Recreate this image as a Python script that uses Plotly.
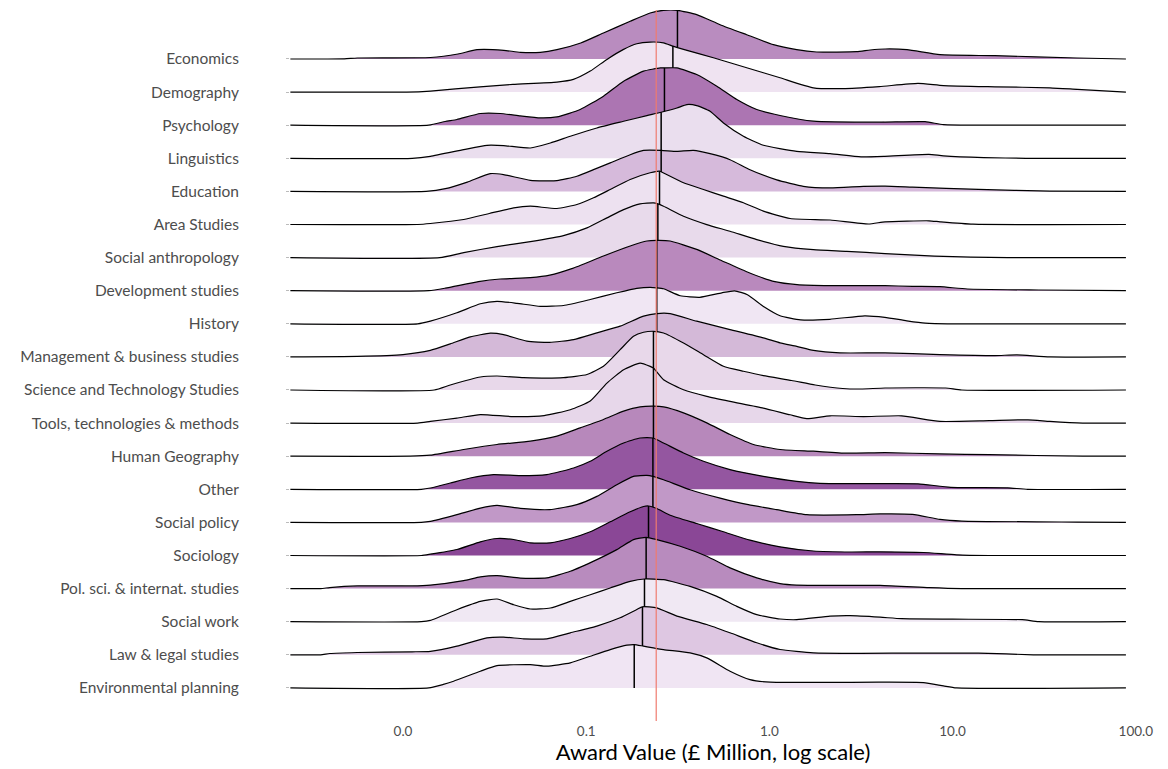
import numpy as np
import plotly.graph_objects as go

categories = ["Economics", "Demography", "Psychology", "Linguistics", "Education", "Area Studies",
              "Social anthropology", "Development studies", "History", "Management & business studies",
              "Science and Technology Studies", "Tools, technologies & methods", "Human Geography", "Other",
              "Social policy", "Sociology", "Pol. sci. & internat. studies", "Social work",
              "Law & legal studies", "Environmental planning"]

fill_colors = ["#b98cbf", "#efe3f1", "#ac75b2", "#eadeee", "#d6badb", "#ede1f0", "#e8daeb", "#b989bd",
               "#f0e6f3", "#d4b9d8", "#e8d8ea", "#e7d7ea", "#b788bb", "#9456a0", "#c198c7", "#8a4796",
               "#b88bbe", "#f0e8f3", "#dec7e2", "#f0e5f3"]

# median award (log10 of £ million) per category, and overall median
medians_log10 = [-0.502, -0.527, -0.573, -0.591, -0.591, -0.60, -0.609, -0.615, -0.615, -0.615,
                 -0.633, -0.633, -0.633, -0.636, -0.636, -0.66, -0.673, -0.682, -0.693, -0.738]
overall_median_log10 = -0.618

tick_vals = [0.01, 0.1, 1, 10, 100]
tick_text = ["0.0", "0.1", "1.0", "10.0", "100.0"]

# density curves: x = log10(award, £M), d = relative density
economics_x = [-2.615, -2.32, -2.25, -1.85, -1.7, -1.596, -1.45, -1.36, -1.25, -1.16, -1.03, -0.906, -0.76, -0.651, -0.578, -0.502, -0.397, -0.269, -0.124, 0.022, 0.149, 0.258, 0.476, 0.55, 0.631, 0.751, 0.931, 1.231, 1.681, 1.946]
economics_d = [0, 0.2, 1, 1.5, 5, 9.3, 8.7, 6.7, 6.7, 9.3, 16, 26, 37.7, 46, 48.7, 48.7, 44.3, 34.3, 24.3, 14.3, 9.3, 7, 7.3, 9, 10, 9.3, 4.3, 3.3, 1, 0]

demography_x = [-2.615, -1.98, -1.85, -1.58, -1.40, -1.16, -1.07, -0.978, -0.887, -0.796, -0.724, -0.651, -0.578, -0.527, -0.469, -0.306, -0.124, 0.058, 0.24, 0.40, 0.60, 0.811, 0.95, 1.231, 1.531, 1.681, 1.946]
demography_d = [0, 0, 1, 5.3, 7.7, 10, 12.7, 21, 32.7, 42.7, 48.3, 50, 49.3, 46, 42.7, 34.3, 24.3, 14.3, 4.3, 3.5, 5.5, 8.7, 6.5, 5.3, 4.3, 2.7, 0]

psychology_x = [-2.615, -1.86, -1.77, -1.706, -1.578, -1.469, -1.36, -1.251, -1.16, -1.033, -0.906, -0.796, -0.687, -0.596, -0.573, -0.505, -0.397, -0.287, -0.178, -0.069, 0.058, 0.24, 0.6, 0.85, 0.95, 1.2, 1.946]
psychology_d = [0, 0, 3.7, 5.7, 11.7, 11.7, 9.3, 7.3, 8.3, 15.7, 29, 44, 54, 57.3, 57.3, 57.3, 50.7, 39, 25.7, 15.7, 9.7, 4, 3, 3.5, 0.5, 0, 0]

linguistics_x = [-2.615, -1.95, -1.851, -1.669, -1.542, -1.451, -1.305, -1.196, -1.087, -0.942, -0.796, -0.669, -0.591, -0.505, -0.451, -0.397, -0.324, -0.251, -0.142, -0.033, 0.149, 0.331, 0.5, 0.63, 0.87, 0.95, 1.17, 1.4, 1.946]
linguistics_d = [0, 0, 2, 8.7, 13, 12.7, 10.3, 15.3, 22, 30.3, 37, 42.7, 46, 50.3, 53.7, 52.7, 47, 35.3, 22, 13, 7, 4.7, 1.5, 2, 4, 2.5, 0.7, 0, 0]

education_x = [-2.615, -1.874, -1.769, -1.649, -1.524, -1.451, -1.305, -1.16, -1.051, -0.95, -0.869, -0.76, -0.687, -0.591, -0.505, -0.415, -0.324, -0.215, -0.106, 0.04, 0.185, 0.331, 0.513, 0.631, 0.781, 1.141, 1.531, 1.946]
education_d = [0, 0, 2.7, 9.3, 17.8, 16.8, 11.1, 10.8, 15.1, 22.5, 28.5, 36.7, 41, 41, 40, 41, 37.7, 31.7, 21.7, 11.5, 5.1, 3.5, 5, 5.3, 4.3, 2, 0.3, 0]

area_x = [-2.615, -1.92, -1.851, -1.669, -1.529, -1.396, -1.305, -1.16, -1.051, -0.96, -0.869, -0.76, -0.651, -0.60, -0.578, -0.469, -0.36, -0.251, -0.142, -0.033, 0.113, 0.331, 0.541, 0.631, 0.871, 0.931, 1.111, 1.946]
area_d = [0, 0, 1, 5, 11, 16.7, 18.3, 16, 20, 26.7, 35, 45, 51.7, 53.3, 51.5, 41.7, 35, 28.3, 21.7, 13.3, 6, 4.5, 0.5, 2.7, 3.7, 2.7, 0.3, 0]

anthro_x = [-2.615, -1.8, -1.669, -1.487, -1.305, -1.124, -0.996, -0.887, -0.796, -0.706, -0.633, -0.609, -0.578, -0.469, -0.342, -0.215, -0.069, 0.076, 0.24, 0.422, 0.631, 0.9, 1.1, 1.3, 1.946]
anthro_d = [0, 0, 5, 11, 16, 22, 29.7, 39.7, 48, 53.7, 54.7, 53.7, 51.3, 41.3, 33, 26.3, 18, 11.3, 8, 6.3, 4, 1.5, 0.5, 0, 0]

development_x = [-2.615, -1.86, -1.769, -1.589, -1.469, -1.305, -1.199, -1.079, -0.906, -0.76, -0.669, -0.615, -0.542, -0.397, -0.26, -0.124, 0.03, 0.151, 0.331, 0.631, 0.781, 0.931, 1.081, 1.471, 1.946]
development_d = [0, 0, 2.5, 9, 11.7, 13, 15.5, 22, 34.7, 44.7, 49.7, 50.3, 49.7, 41.3, 30, 19, 9, 6, 5, 5, 4.3, 4, 1.7, 0.7, 0]

history_x = [-2.615, -1.92, -1.851, -1.706, -1.578, -1.487, -1.378, -1.251, -1.124, -0.978, -0.833, -0.724, -0.651, -0.615, -0.578, -0.487, -0.38, -0.26, -0.19, -0.12, -0.03, 0.058, 0.17, 0.33, 0.52, 0.63, 0.75, 0.85, 1.0, 1.946]
history_d = [0, 0, 2.7, 11, 20, 22.5, 20.5, 17.5, 18.3, 24.3, 31, 35.5, 36.5, 36, 35, 28, 26.5, 31, 33, 29, 17, 8, 4, 4.5, 8, 6.5, 3, 0.7, 0, 0]

management_x = [-2.615, -2.25, -2.0, -1.851, -1.742, -1.633, -1.524, -1.451, -1.324, -1.2, -1.069, -0.942, -0.815, -0.687, -0.615, -0.542, -0.397, -0.215, -0.033, 0.058, 0.149, 0.24, 0.385, 0.631, 0.931, 1.231, 1.351, 1.53, 1.946]
management_d = [0, 0.5, 2.3, 6.5, 13, 20, 23.7, 22.3, 15.7, 14.5, 17.3, 24, 30.7, 40.7, 43.3, 43.3, 35.7, 27.3, 19, 14, 10.5, 6.5, 4, 4, 2.3, 1.3, 2, 0, 0]

scitech_x = [-2.615, -1.83, -1.742, -1.578, -1.487, -1.342, -1.124, -0.996, -0.906, -0.815, -0.742, -0.687, -0.633, -0.578, -0.469, -0.36, -0.251, -0.142, -0.033, 0.121, 0.25, 0.4, 0.5, 0.631, 0.961, 1.05, 1.946]
scitech_d = [0, 0, 5, 13, 14, 12.3, 12.3, 15.5, 23.7, 40.3, 53.7, 57.7, 58.7, 57, 47, 35.3, 23.7, 18.7, 14.3, 9.5, 5, 1.5, 1, 2, 2, 0, 0]

tools_x = [-2.615, -1.92, -1.851, -1.706, -1.578, -1.40, -1.23, -1.087, -0.978, -0.887, -0.796, -0.706, -0.651, -0.633, -0.578, -0.469, -0.342, -0.215, -0.033, 0.113, 0.204, 0.331, 0.513, 0.721, 0.931, 1.2, 1.411, 1.531, 1.71, 1.946]
tools_d = [0, 0, 1.7, 5, 8.5, 6.5, 7.5, 13.3, 22, 40, 53.3, 60, 56.7, 55, 43.3, 33.3, 26.7, 21.7, 15, 8.3, 4.5, 7.3, 6.5, 7.3, 1.7, 2.5, 3.3, 1.7, 0, 0]

humgeo_x = [-2.615, -1.96, -1.851, -1.669, -1.487, -1.305, -1.16, -1.033, -0.906, -0.796, -0.706, -0.633, -0.578, -0.469, -0.342, -0.215, -0.087, 0.058, 0.24, 0.422, 0.631, 0.931, 1.2, 1.711, 1.946]
humgeo_d = [0, 0, 1, 6.7, 11.7, 15, 20, 28.3, 36.7, 45, 49.3, 50, 49.3, 43.3, 33.3, 21.7, 11.7, 6.7, 5, 3, 3.5, 2.3, 1.5, 0, 0]

other_x = [-2.615, -1.9, -1.851, -1.742, -1.633, -1.506, -1.36, -1.215, -1.069, -0.978, -0.887, -0.796, -0.706, -0.636, -0.578, -0.469, -0.36, -0.215, -0.033, 0.149, 0.276, 0.604, 0.811, 0.99, 1.3, 1.41, 1.946]
other_d = [0, 0, 1.3, 6.3, 11.3, 14.7, 13.7, 14.7, 21.3, 28, 38, 46.3, 51.3, 51.3, 46.3, 36.3, 28, 19.7, 13, 8, 6, 5.7, 5.5, 2, 1.5, 0, 0]

socpol_x = [-2.615, -1.9, -1.851, -1.706, -1.578, -1.487, -1.36, -1.2, -1.051, -0.942, -0.833, -0.742, -0.669, -0.636, -0.578, -0.433, -0.269, -0.115, 0.04, 0.204, 0.476, 0.604, 0.781, 0.931, 1.051, 1.681, 1.946]
socpol_d = [0, 0, 1, 7.7, 14.3, 17, 14, 12.8, 17.7, 26, 37.7, 46, 47, 46, 42.7, 32.7, 24.3, 17.7, 12.7, 7.7, 7.7, 8.5, 8, 3, 1.3, 0.3, 0]

sociology_x = [-2.615, -1.9, -1.851, -1.706, -1.578, -1.487, -1.396, -1.305, -1.196, -1.087, -0.978, -0.869, -0.76, -0.687, -0.66, -0.615, -0.542, -0.397, -0.251, -0.106, 0.058, 0.24, 0.45, 0.604, 0.841, 1.021, 1.2, 1.946]
sociology_d = [0, 0, 1.3, 6, 13.7, 17, 16, 12.7, 12.7, 17, 23.7, 33.7, 43.7, 49, 49.5, 47, 40.3, 32, 23.7, 15.3, 8.7, 4.5, 3.5, 3.7, 3, 0.7, 0, 0]

polsci_x = [-2.615, -2.45, -2.4, -2.25, -1.95, -1.851, -1.669, -1.578, -1.487, -1.36, -1.215, -1.087, -0.942, -0.833, -0.742, -0.673, -0.615, -0.487, -0.342, -0.215, -0.069, 0.058, 0.149, 0.604, 0.871, 1.05, 1.946]
polsci_d = [0, 0, 1, 2.7, 2.7, 3.5, 8, 11.7, 13, 10.5, 10.7, 17.3, 29, 39, 49, 51.3, 49, 42.3, 32.3, 20.7, 10.7, 5, 3.5, 3.2, 1, 0, 0]

socwork_x = [-2.615, -1.9, -1.851, -1.706, -1.578, -1.487, -1.396, -1.305, -1.196, -1.087, -0.978, -0.869, -0.76, -0.682, -0.578, -0.433, -0.287, -0.178, -0.069, 0.058, 0.149, 0.331, 0.44, 0.604, 0.721, 1.0, 1.38, 1.47, 1.946]
socwork_d = [0, 0, 1.3, 12, 20.3, 22.7, 17, 12.7, 13.7, 20.3, 27, 33.7, 40.3, 42.7, 42, 35.3, 25.3, 15.3, 7, 2.7, 2, 5.5, 6, 4.5, 3, 2.5, 2, 0, 0]

law_x = [-2.615, -2.45, -2.4, -2.25, -1.95, -1.851, -1.706, -1.542, -1.451, -1.342, -1.215, -1.087, -0.942, -0.815, -0.724, -0.693, -0.615, -0.505, -0.342, -0.215, -0.069, 0.058, 0.24, 0.5, 0.841, 1.141, 1.441, 1.946]
law_d = [0, 0, 1.3, 2.3, 3, 3.5, 8.7, 17, 17.7, 16, 16, 22, 28.7, 37, 45.3, 48, 47, 38.7, 30.3, 22, 12, 5.3, 2, 1.5, 1.7, 1.7, 0, 0]

envplan_x = [-2.615, -1.86, -1.78, -1.724, -1.578, -1.487, -1.305, -1.215, -1.087, -0.978, -0.869, -0.778, -0.738, -0.687, -0.578, -0.433, -0.342, -0.215, -0.106, 0.004, 0.604, 0.841, 0.95, 1.021, 1.946]
envplan_d = [0, 0, 3.5, 6.7, 16.7, 22.3, 23.3, 21.7, 25, 31.7, 38.3, 42.7, 43.3, 41.7, 38.3, 35, 30, 16.7, 8.3, 5.7, 5.7, 5.3, 2, 0, 0]

curves = [(economics_x, economics_d), (demography_x, demography_d), (psychology_x, psychology_d),
          (linguistics_x, linguistics_d), (education_x, education_d), (area_x, area_d),
          (anthro_x, anthro_d), (development_x, development_d), (history_x, history_d),
          (management_x, management_d), (scitech_x, scitech_d), (tools_x, tools_d),
          (humgeo_x, humgeo_d), (other_x, other_d), (socpol_x, socpol_d), (sociology_x, sociology_d),
          (polsci_x, polsci_d), (socwork_x, socwork_d), (law_x, law_d), (envplan_x, envplan_d)]

RIDGE_SCALE = 1 / 33.1  # density units -> row units
FONT = "Lato, 'Open Sans', sans-serif"

fig = go.Figure()
n = len(categories)
for i, cat in enumerate(categories):
    base = n - i
    lx = np.array(curves[i][0], dtype=float)
    d = np.array(curves[i][1], dtype=float) * RIDGE_SCALE
    xv = 10 ** lx
    fig.add_trace(go.Scatter(x=xv, y=np.full(len(d), base), mode="lines",
                             line=dict(width=0, color="rgba(0,0,0,0)"),
                             hoverinfo="skip", showlegend=False))
    fig.add_trace(go.Scatter(x=xv, y=base + d, mode="lines", fill="tonexty",
                             fillcolor=fill_colors[i],
                             line=dict(color="black", width=1.2, shape="spline", smoothing=0.5),
                             name=cat, showlegend=False))
    mh = float(np.interp(medians_log10[i], lx, d))
    fig.add_trace(go.Scatter(x=[10 ** medians_log10[i]] * 2, y=[base, base + mh], mode="lines",
                             line=dict(color="black", width=1.5), hoverinfo="skip", showlegend=False))

Y_RANGE = [0.0, 21.48]
fig.add_trace(go.Scatter(x=[10 ** overall_median_log10] * 2, y=Y_RANGE, mode="lines",
                         line=dict(color="#ef7b6f", width=1.2), hoverinfo="skip", showlegend=False))

fig.update_layout(
    width=1168, height=769,
    margin=dict(l=290, r=32, t=10, b=48),
    plot_bgcolor="white", paper_bgcolor="white",
    font=dict(family=FONT, color="#4d4d4d"),
)
fig.update_xaxes(type="log", range=[-2.617, 2.001], tickvals=tick_vals, ticktext=tick_text,
                 showgrid=False, zeroline=False, showline=False, ticks="",
                 tickfont=dict(size=13.5, color="#4d4d4d", family=FONT),
                 title=dict(text="Award Value (£ Million, log scale)",
                            font=dict(size=22, color="black", family=FONT), standoff=2))
fig.update_yaxes(range=Y_RANGE, tickvals=list(range(n, 0, -1)), ticktext=categories,
                 showgrid=False, zeroline=False, showline=False,
                 ticks="outside", ticklen=3, tickcolor="#bbbbbb",
                 tickfont=dict(size=15.5, color="#4d4d4d", family=FONT),
                 ticklabelstandoff=44)

fig.write_html("out.html")
